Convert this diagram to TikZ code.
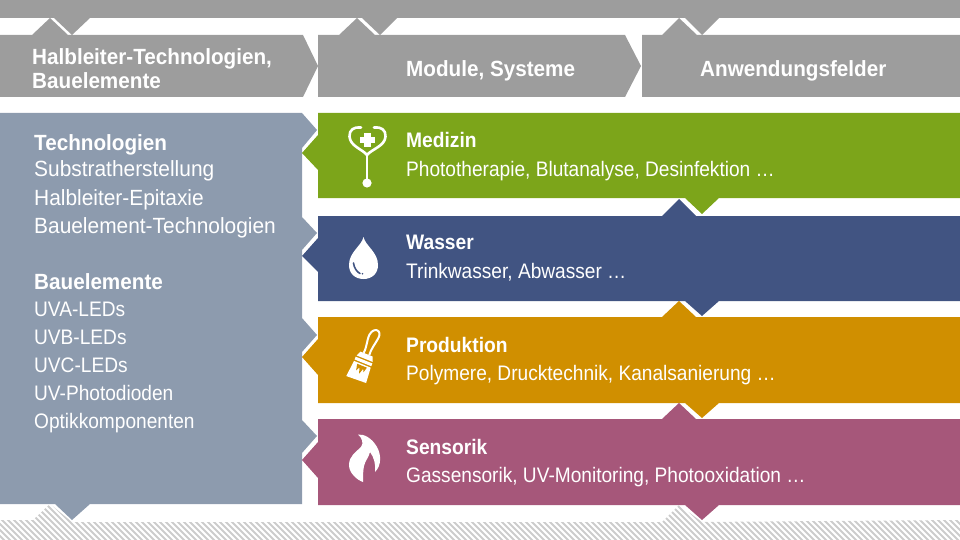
\documentclass[tikz,border=0pt]{standalone}
\usepackage{fontspec}
\setmainfont{Liberation Sans}
\definecolor{hdr}{HTML}{9D9D9D}
\definecolor{slate}{HTML}{8D9BAE}
\definecolor{grn}{HTML}{7CA51A}
\definecolor{blu}{HTML}{415482}
\definecolor{org}{HTML}{D08F00}
\definecolor{pur}{HTML}{A6577A}
\definecolor{hatch}{HTML}{CCCCCC}
\tikzset{
  txt/.style={inner sep=0pt,anchor=base west,text=white,font=\fontsize{21}{21}\selectfont,xscale=.91},
  txtbig/.style={inner sep=0pt,anchor=base west,text=white,font=\fontsize{22}{22}\selectfont,xscale=.95},
  hd/.style={inner sep=0pt,anchor=base west,text=white,font=\fontsize{21}{21}\selectfont\bfseries,xscale=.915},
  hdbig/.style={inner sep=0pt,anchor=base west,text=white,font=\fontsize{22}{22}\selectfont\bfseries,xscale=.94},
  icon/.style={draw=white,line width=2.6pt,line cap=round,line join=round},
}
\begin{document}
\begin{tikzpicture}[x=1pt,y=-1pt]
\useasboundingbox (0,0) rectangle (960,540);
% hatch
\begin{scope}
\clip (0,520) -- (33,520) -- (50,504) -- (72,522) -- (662,522) -- (679,505) -- (702,522) -- (960,520) -- (960,540) -- (0,540) -- cycle;
\foreach \i in {-60,-54,...,960} \draw[hatch,line width=2.1pt] (\i,500) -- (\i+45,545);
\end{scope}
% header band
\fill[hdr] (0,0) -- (960,0) -- (960,18) -- (719,18) -- (702,35) -- (685,18) -- (397,18) -- (380,35) -- (362,18) -- (90,18) -- (72,35) -- (54,18) -- (0,18) -- cycle;
\fill[hdr] (0,35) -- (32,35) -- (50,18) -- (68,35) -- (303,35) -- (318,66) -- (303,97) -- (0,97) -- cycle;
\fill[hdr] (318,35) -- (339,35) -- (357,18) -- (375,35) -- (625,35) -- (641,66) -- (625,97) -- (318,97) -- cycle;
\fill[hdr] (642,35) -- (662,35) -- (679,18) -- (697,35) -- (960,35) -- (960,97) -- (642,97) -- cycle;
% left panel
\fill[slate] (0,113) -- (302,113) -- (317,130) -- (302,148) -- (302,217) -- (317,233) -- (302,250) -- (302,318) -- (317,335) -- (302,352) -- (302,420) -- (317,436) -- (302,453) -- (302,504) -- (90,504) -- (72,520) -- (55,504) -- (0,504) -- cycle;
% bars
\fill[grn] (318,113) -- (960,113) -- (960,198) -- (719,198) -- (702,214) -- (685,198) -- (318,198) -- (318,170) -- (302,153) -- (318,135) -- cycle;
\fill[blu] (318,216) -- (662,216) -- (679,199) -- (696,216) -- (960,216) -- (960,301) -- (719,301) -- (702,316) -- (685,301) -- (318,301) -- (318,272) -- (302,256) -- (318,238) -- cycle;
\fill[org] (318,317) -- (662,317) -- (679,301) -- (696,317) -- (960,317) -- (960,403) -- (719,403) -- (702,418) -- (685,403) -- (318,403) -- (318,375) -- (302,357) -- (318,339) -- cycle;
\fill[pur] (318,419) -- (662,419) -- (679,403) -- (696,419) -- (960,419) -- (960,505) -- (719,505) -- (702,520) -- (685,505) -- (318,505) -- (318,478) -- (302,460) -- (318,442) -- cycle;
% stethoscope
\draw[icon] (361,127.5) .. controls (354,126.5) and (349,130) .. (349.5,136.5) .. controls (350,146) and (362,149) .. (367,155) .. controls (372,149) and (385,146) .. (385.5,136.5) .. controls (386,130) and (381,126.5) .. (374,127.5);
\draw[icon] (367,155) -- (367,180);
\fill[white] (367,183) circle[radius=4.6];
\fill[white] (364,133) rectangle (370.5,147.5);
\fill[white] (360,137) rectangle (375,143.5);
% drop
\fill[white] (363.5,237) .. controls (361.5,246) and (349,252) .. (349,265) .. controls (349,274) and (355.5,279) .. (363.5,279) .. controls (371.5,279) and (378,274) .. (378,265) .. controls (378,252) and (365.5,246) .. (363.5,237) -- cycle;
\draw[blu,line width=1.6pt,line cap=round] (353.5,263) .. controls (354,268) and (357,272) .. (360,273.5);
\fill[blu] (362.5,273.8) circle[radius=.9];
% brush
\begin{scope}[shift={(356,380)},rotate=-22]
\fill[white] (-10.5,0) -- (10.5,-1) -- (9,-17) -- (-9,-17) -- cycle;
\fill[org] (-5,-15.5) -- (-3.5,-9) -- (-1.5,-13) -- (0.5,-7) -- (2.5,-13) -- (4,-10) -- (5.5,-15.5) -- cycle;
\fill[white] (-9,-18.5) rectangle (9,-21.5);
\fill[white] (-8.5,-23) -- (8.5,-23) -- (6.5,-28) -- (-6.5,-28) -- cycle;
\draw[white,line width=2pt,line join=round] (-3,-28) .. controls (-2,-32) and (-5,-42) .. (-4.5,-47) .. controls (-4,-52) and (-1,-54) .. (1,-54) .. controls (4,-54) and (5.5,-51) .. (5,-47) .. controls (4.5,-42) and (2,-33) .. (3,-28);
\end{scope}
% flame
\fill[white] (358,434.5) .. controls (364,434) and (372,438) .. (377,447) .. controls (381,454) and (382,465) .. (375,472) .. controls (376,465) and (374,457) .. (370,452) .. controls (369,457) and (365,461) .. (364,466) .. controls (363,471) and (363,476) .. (363,482) .. controls (357,480) and (349,473) .. (349,465) .. controls (349,456) and (356,452) .. (361,447) .. controls (364,443) and (362,438) .. (358,434.5) -- cycle;
% texts
\node[hdbig] (h1) at (32,65) {Halbleiter-Technologien,};
\node[hdbig] (h1b) at (32,89) {Bauelemente};
\node[hdbig] (h2) at (406,77) {Module, Systeme};
\node[hdbig] (h3) at (700,77) {Anwendungsfelder};
\node[hdbig] (t1) at (34,151) {Technologien};
\node[txtbig] (t2) at (34,177) {Substratherstellung};
\node[txtbig] (t3) at (34,205) {Halbleiter-Epitaxie};
\node[txtbig] (t4) at (34,233) {Bauelement-Technologien};
\node[hdbig] (b1) at (34,289) {Bauelemente};
\node[txt] (b2) at (34,316) {UVA-LEDs};
\node[txt] (b3) at (34,344) {UVB-LEDs};
\node[txt] (b4) at (34,372) {UVC-LEDs};
\node[txt] (b5) at (34,400) {UV-Photodioden};
\node[txt] (b6) at (34,428) {Optikkomponenten};
\node[hd] (m1) at (406,148) {Medizin};
\node[txt] (m2) at (406,176) {Phototherapie, Blutanalyse, Desinfektion …};
\node[hd] (w1) at (406,249) {Wasser};
\node[txt] (w2) at (406,278) {Trinkwasser, Abwasser …};
\node[hd] (p1) at (406,352) {Produktion};
\node[txt] (p2) at (406,380) {Polymere, Drucktechnik, Kanalsanierung …};
\node[hd] (s1) at (406,454) {Sensorik};
\node[txt] (s2) at (406,482) {Gassensorik, UV-Monitoring, Photooxidation …};
\end{tikzpicture}
\end{document}
